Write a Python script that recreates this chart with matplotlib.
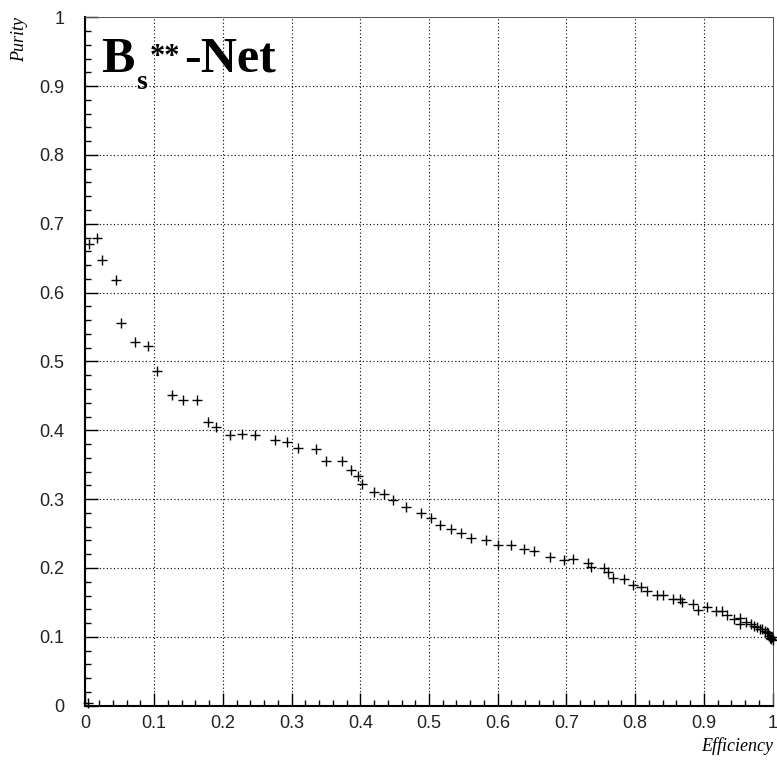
import matplotlib
matplotlib.use("Agg")
import matplotlib.pyplot as plt
from matplotlib.ticker import MultipleLocator

# Efficiency vs. purity of the network output cut scan
efficiency = [0.004, 0.006, 0.017, 0.025, 0.045, 0.052, 0.072, 0.091, 0.104, 0.126,
              0.142, 0.162, 0.178, 0.190, 0.210, 0.228, 0.247, 0.276, 0.293, 0.309,
              0.335, 0.350, 0.373, 0.387, 0.397, 0.402, 0.420, 0.435, 0.447, 0.466,
              0.488, 0.503, 0.516, 0.532, 0.547, 0.561, 0.583, 0.601, 0.619, 0.638,
              0.653, 0.676, 0.696, 0.709, 0.731, 0.736, 0.755, 0.760, 0.767, 0.784,
              0.797, 0.808, 0.817, 0.832, 0.841, 0.855, 0.865, 0.868, 0.884, 0.892,
              0.904, 0.918, 0.926, 0.934, 0.944, 0.952, 0.953, 0.961, 0.968, 0.973,
              0.977, 0.981, 0.985, 0.989, 0.991, 0.993, 0.995, 0.996, 0.998, 0.999, 1.0]
purity = [0.004, 0.670, 0.680, 0.648, 0.618, 0.556, 0.528, 0.523, 0.486, 0.451,
          0.444, 0.444, 0.4125, 0.405, 0.393, 0.395, 0.393, 0.386, 0.3825, 0.374,
          0.373, 0.356, 0.355, 0.343, 0.334, 0.322, 0.310, 0.307, 0.299, 0.288,
          0.280, 0.272, 0.2625, 0.257, 0.251, 0.244, 0.240, 0.233, 0.233, 0.228,
          0.224, 0.216, 0.211, 0.213, 0.207, 0.201, 0.200, 0.194, 0.186, 0.184,
          0.176, 0.173, 0.167, 0.161, 0.161, 0.155, 0.155, 0.151, 0.147, 0.139,
          0.144, 0.1375, 0.137, 0.132, 0.1255, 0.128, 0.119, 0.122, 0.119, 0.116,
          0.114, 0.112, 0.111, 0.108, 0.107, 0.105, 0.101, 0.099, 0.097, 0.100, 0.095]

tick_values = [0, 0.1, 0.2, 0.3, 0.4, 0.5, 0.6, 0.7, 0.8, 0.9, 1]
tick_labels = ["0", "0.1", "0.2", "0.3", "0.4", "0.5", "0.6", "0.7", "0.8", "0.9", "1"]

W, H = 777, 760
fig = plt.figure(figsize=(W / 100, H / 100), dpi=100)
ax = fig.add_axes([85.3 / W, 1 - 705.7 / H, (772.7 - 85.3) / W, (705.7 - 17.2) / H])

ax.plot(efficiency, purity, linestyle="none", marker="+", markersize=7.5,
        markeredgewidth=1.0, color="black", clip_on=False, zorder=3)

ax.set_xlim(0, 1)
ax.set_ylim(0, 1)
ax.set_xticks(tick_values)
ax.set_xticklabels(tick_labels)
ax.set_yticks(tick_values)
ax.set_yticklabels(tick_labels)
ax.xaxis.set_minor_locator(MultipleLocator(0.02))
ax.yaxis.set_minor_locator(MultipleLocator(0.02))

tick_font = dict(family="Liberation Sans", size=13)
for lab in ax.get_xticklabels() + ax.get_yticklabels():
    lab.set_fontfamily(tick_font["family"])
    lab.set_fontsize(tick_font["size"])
    lab.set_color("#222222")

ax.tick_params(axis="both", which="major", direction="in", length=9.5, width=1.0,
               color="black")
ax.tick_params(axis="both", which="minor", direction="in", length=4.5, width=1.0,
               color="black")
ax.tick_params(axis="x", which="major", pad=7)
ax.tick_params(axis="y", which="major", pad=15)
ax.tick_params(top=False, right=False, which="both")

ax.grid(True, which="major", color="black", linestyle=(0, (1, 2.2)), linewidth=0.8)
ax.set_axisbelow(True)

for side in ("left", "bottom"):
    ax.spines[side].set_linewidth(1.5)
    ax.spines[side].set_color("black")
for side in ("top", "right"):
    ax.spines[side].set_linewidth(0.7)
    ax.spines[side].set_color("#555555")

# axis titles
fig.text(773 / W, 1 - 746 / H, "Efficiency", ha="right", va="center",
         family="Liberation Serif", style="italic", fontsize=13)
fig.text(20 / W, 1 - 40 / H, "Purity", ha="center", va="center", rotation=90,
         family="Liberation Serif", style="italic", fontsize=13)

# panel title B_s**-Net built from pieces
serif_bold = dict(family="Liberation Serif", weight="bold", color="black")
fig.text(101 / W, 1 - 72 / H, "B", ha="left", va="baseline", fontsize=36, **serif_bold)
fig.text(136 / W, 1 - 89 / H, "s", ha="left", va="baseline", fontsize=20, **serif_bold)
fig.text(150 / W, 1 - 65 / H, "**", ha="left", va="baseline", fontsize=22, **serif_bold)
fig.text(184 / W, 1 - 72 / H, "-Net", ha="left", va="baseline", fontsize=36, **serif_bold)

fig.savefig("out.png", dpi=100)
